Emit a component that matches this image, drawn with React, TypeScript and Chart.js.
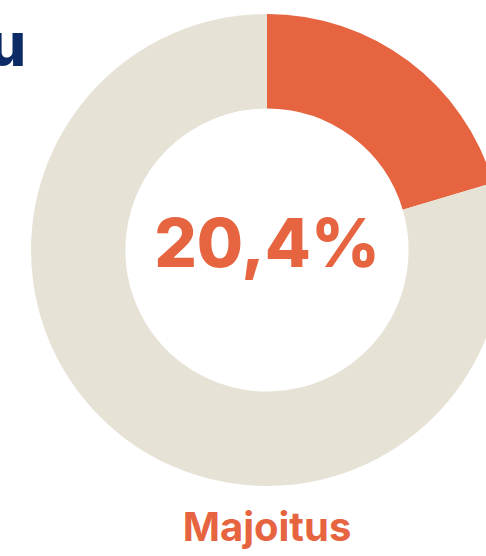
import React, { useEffect, useRef } from "react";
import { Chart, registerables } from "chart.js";

Chart.register(...registerables);

const categories = ["Majoitus", "Muut"];
const values = [20.4, 79.6];
const colors = ["#E6643F", "#E7E2D6"];
const centerLabel = "20,4%";
const bottomLabel = "Majoitus";
const titleFragment = "u";

export default function App() {
  const ref = useRef<HTMLCanvasElement | null>(null);
  useEffect(() => {
    if (!ref.current) return;
    const chart = new Chart(ref.current, {
      type: "doughnut",
      data: {
        labels: categories,
        datasets: [
          {
            data: values,
            backgroundColor: colors,
            borderWidth: 0,
          },
        ],
      },
      options: {
        responsive: false,
        animation: false,
        cutout: "60%",
        layout: { padding: 14 },
        plugins: { legend: { display: false }, tooltip: { enabled: false } },
      },
    });
    return () => chart.destroy();
  }, []);

  return (
    <div
      style={{
        position: "fixed",
        left: 0,
        top: 0,
        width: 486,
        height: 556,
        overflow: "hidden",
        background: "#fff",
        fontFamily: "Inter, sans-serif",
      }}
    >
      <canvas
        ref={ref}
        width={534}
        height={500}
        style={{ position: "absolute", left: 0, top: 0, width: 534, height: 500 }}
      />
      <div
        style={{
          position: "absolute",
          left: -12,
          top: 8,
          fontSize: 60,
          fontWeight: 800,
          color: "#0B2A66",
          lineHeight: "72px",
        }}
      >
        {titleFragment}
      </div>
      <div
        style={{
          position: "absolute",
          left: 0,
          width: 534,
          top: 201,
          textAlign: "center",
          fontSize: 67,
          fontWeight: 800,
          color: "#E6643F",
          lineHeight: "84px",
        }}
      >
        {centerLabel}
      </div>
      <div
        style={{
          position: "absolute",
          left: 0,
          width: 534,
          top: 503,
          textAlign: "center",
          fontSize: 40,
          fontWeight: 700,
          color: "#E6643F",
          lineHeight: "48px",
        }}
      >
        {bottomLabel}
      </div>
    </div>
  );
}
